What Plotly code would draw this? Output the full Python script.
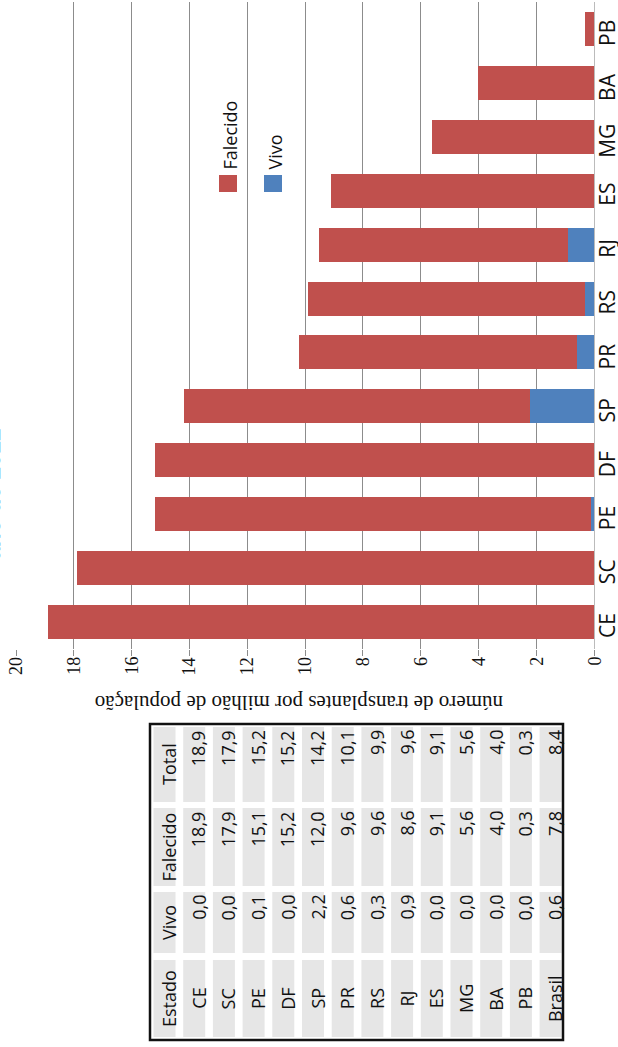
import plotly.graph_objects as go

# ---------------- data ----------------
estados = ["CE", "SC", "PE", "DF", "SP", "PR", "RS", "RJ", "ES", "MG", "BA", "PB"]
vivo = [0.0, 0.0, 0.1, 0.0, 2.2, 0.6, 0.3, 0.9, 0.0, 0.0, 0.0, 0.0]
falecido = [18.9, 17.9, 15.1, 15.2, 12.0, 9.6, 9.6, 8.6, 9.1, 5.6, 4.0, 0.3]
total = [18.9, 17.9, 15.2, 15.2, 14.2, 10.1, 9.9, 9.6, 9.1, 5.6, 4.0, 0.3]
brasil_label = "Brasil"
brasil_vivo = 0.6
brasil_falecido = 7.8
brasil_total = 8.4
tick_vals = [0, 2, 4, 6, 8, 10, 12, 14, 16, 18, 20]
titulo = "ano de 2012"
eixo_titulo = "número de transplantes por milhão de população"
tabela_cab = ["Estado", "Vivo", "Falecido", "Total"]

# ---------------- layout helpers ----------------
W, H = 618, 1047
ML, MR, MT, MB = 16, 24, 2, 398
PW, PH = W - ML - MR, H - MT - MB


def px(x):
    return (x - ML) / PW


def py(y):
    return 1 - (y - MT) / PH


RED = "#C0504D"
BLUE = "#4F81BD"
GRID = "#8C8C8C"
SANS = "Open Sans, Liberation Sans, sans-serif"
SERIF = "Liberation Serif, Times New Roman, serif"

fig = go.Figure()
fig.add_trace(go.Bar(y=estados, x=vivo, orientation="h", name="Vivo",
                     marker=dict(color=BLUE, line=dict(width=0))))
fig.add_trace(go.Bar(y=estados, x=falecido, orientation="h", name="Falecido",
                     marker=dict(color=RED, line=dict(width=0))))

fig.update_layout(
    width=W, height=H,
    margin=dict(l=ML, r=MR, t=MT, b=MB, pad=0),
    paper_bgcolor="white", plot_bgcolor="white",
    barmode="stack", bargap=0.37, showlegend=False,
    xaxis=dict(range=[20, 0], tickvals=tick_vals, showgrid=True, gridcolor=GRID,
               gridwidth=1, zeroline=False, showline=False, ticks="outside",
               ticklen=6, tickcolor=GRID, showticklabels=False),
    yaxis=dict(range=[-0.5, 11.5], side="right", showgrid=False, zeroline=False,
               showline=True, linecolor="#BBBBBB", linewidth=1, ticks="",
               showticklabels=False),
)

anns = []
shapes = []

# value-axis tick labels (rotated, serif)
for v in tick_vals:
    anns.append(dict(text=str(v), textangle=-90, xref="x", yref="paper",
                     x=v, y=py(655), xanchor="center", yanchor="top", showarrow=False,
                     font=dict(family=SERIF, size=18, color="#111")))

# category labels (rotated, right side)
for e in estados:
    anns.append(dict(text=e, textangle=-90, xref="paper", yref="y",
                     x=px(591), y=e, xanchor="left", yanchor="middle", yshift=-4,
                     showarrow=False, font=dict(family=SANS, size=21, color="#111")))

# title (partially off-canvas as in reference)
anns.append(dict(text="<b>" + titulo + "</b>", textangle=-90, xref="paper", yref="paper",
                 x=px(12), y=py(426), xanchor="right", yanchor="top", xshift=-5,
                 showarrow=False,
                 font=dict(family="Liberation Sans, Arial, sans-serif", size=23, color="black")))

# axis title (upside down)
anns.append(dict(text=eixo_titulo, textangle=180, xref="paper", yref="paper",
                 x=px(299), y=py(703), xanchor="center", yanchor="middle", showarrow=False,
                 font=dict(family=SERIF, size=21, color="#111")))

# legend
for name, col, cx, ty in [("Falecido", RED, 228, 172), ("Vivo", BLUE, 273, 172)]:
    shapes.append(dict(type="rect", xref="paper", yref="paper",
                       x0=px(cx - 9), x1=px(cx + 9), y0=py(175), y1=py(192),
                       fillcolor=col, line=dict(width=0)))
    anns.append(dict(text=name, textangle=-90, xref="paper", yref="paper",
                     x=px(cx + 1), y=py(ty), xanchor="center", yanchor="bottom",
                     showarrow=False, font=dict(family=SANS, size=18, color="#111")))

# table (rotated)
col0 = 164.5
step = 29.7
cell_w = 22
sections = [(727, 802), (808, 886), (892, 953), (960, 1037)]  # Total, Falecido, Vivo, Estado
sec_keys = ["Total", "Falecido", "Vivo", "Estado"]
rows_est = estados + [brasil_label]
rows_vivo = vivo + [brasil_vivo]
rows_fal = falecido + [brasil_falecido]
rows_tot = total + [brasil_total]


def fmt(v):
    return f"{v:.1f}".replace(".", ",")


ncols = len(rows_est) + 1
for i in range(ncols):
    cx = col0 + i * step
    for (y0, y1) in sections:
        shapes.append(dict(type="rect", xref="paper", yref="paper",
                           x0=px(cx - cell_w / 2), x1=px(min(cx + cell_w / 2, 562)),
                           y0=py(y1), y1=py(y0), fillcolor="#E6E6E6", line=dict(width=0),
                           layer="below"))

tfont = dict(family=SANS, size=18, color="#111")
# header column
for key, (y0, y1) in zip(sec_keys, sections):
    label = tabela_cab[["Estado", "Vivo", "Falecido", "Total"].index(key)]
    anns.append(dict(text=label, textangle=-90, xref="paper", yref="paper",
                     x=px(col0 + 4), y=py((y0 + y1) / 2), xanchor="center", yanchor="middle",
                     showarrow=False, font=tfont))

for j in range(len(rows_est)):
    cx = col0 + (j + 1) * step + 4
    vals = {"Total": fmt(rows_tot[j]), "Falecido": fmt(rows_fal[j]), "Vivo": fmt(rows_vivo[j])}
    for key, (y0, y1) in zip(sec_keys, sections):
        if key == "Estado":
            anns.append(dict(text=rows_est[j], textangle=-90, xref="paper", yref="paper",
                             x=px(cx), y=py((y0 + y1) / 2), xanchor="center", yanchor="middle",
                             showarrow=False, font=tfont))
        else:
            anns.append(dict(text=vals[key], textangle=-90, xref="paper", yref="paper",
                             x=px(cx), y=py(y0 + 1), xanchor="center", yanchor="top",
                             showarrow=False, font=tfont))

shapes.append(dict(type="rect", xref="paper", yref="paper",
                   x0=px(150), x1=px(563), y0=py(1040), y1=py(724),
                   line=dict(color="#111", width=2.5), fillcolor="rgba(0,0,0,0)"))

fig.update_layout(annotations=anns, shapes=shapes)
fig.write_html("out.html", config={"displayModeBar": False},
               post_script="document.body.style.margin='0';document.body.style.padding='0';")
